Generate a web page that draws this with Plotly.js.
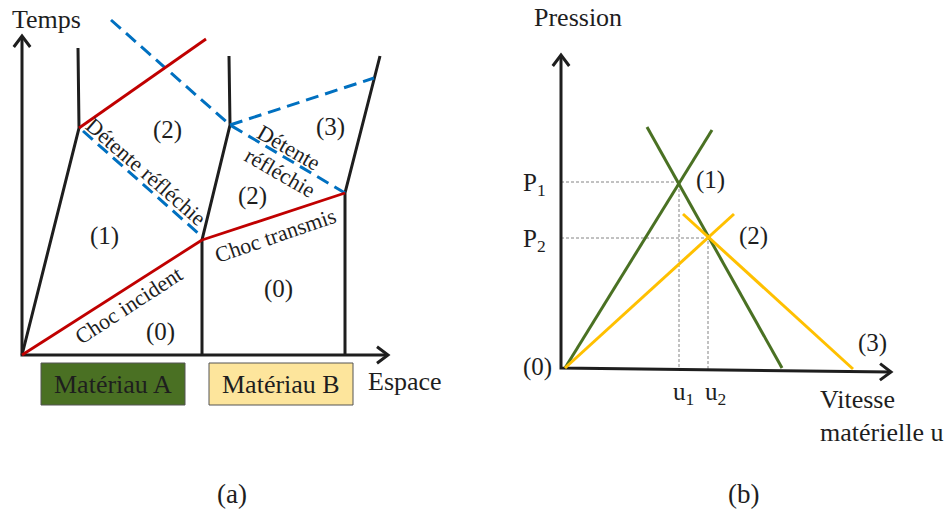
<!DOCTYPE html>
<html><head><meta charset="utf-8">
<script src="https://cdn.plot.ly/plotly-3.0.1.min.js"></script>
<style>html,body{margin:0;padding:0;background:#fff}#g{width:947px;height:512px}</style>
</head><body><div id="g"></div>
<script>
// ---- Panel (a): x–t diagram (schematic units) ----
const axisA_x = [22, 22, 388];
const axisA_y = [36, 355, 355];
const surfA_x = [22, 79, 78];
const surfA_y = [355, 128, 48];
const interface_x = [202, 202, 230, 229];
const interface_y = [355, 240, 125, 56];
const surfB_x = [345, 345, 380];
const surfB_y = [355, 193, 56];
const chocIncident_x = [22, 202];
const chocIncident_y = [355, 240];
const chocTransmis_x = [202, 345];
const chocTransmis_y = [240, 193];
const chocReflechi_x = [79, 206];
const chocReflechi_y = [128, 39];
const detenteA_x = [83, 199];
const detenteA_y = [131, 234];
const detenteB_x = [111, 230, 345];
const detenteB_y = [20, 125, 193];
const detenteB2_x = [230, 374];
const detenteB2_y = [125, 78];

// ---- Panel (b): pressure – material velocity ----
const axisB_x = [561, 561, 891];
const axisB_y = [55, 368, 372];
const greenUp_x = [565, 712];
const greenUp_y = [368, 130];
const greenDown_x = [647, 782];
const greenDown_y = [127, 368];
const yellowUp_x = [565, 734];
const yellowUp_y = [368, 214];
const yellowDown_x = [683, 853];
const yellowDown_y = [214, 369];
const guideP1_x = [561, 679, 679];
const guideP1_y = [182, 182, 369];
const guideP2_x = [561, 708, 708];
const guideP2_y = [238, 238, 370];

const RED = '#c00000', BLUE = '#0070c0', BLACK = '#1e1e1e', GREEN = '#4a7123', YELLOW = '#ffc000';
const FONT = 'Liberation Serif, Times New Roman, serif';

function ln(x, y, color, width, dash) {
  return {type: 'scatter', mode: 'lines', x: x, y: y, hoverinfo: 'skip', showlegend: false,
          line: {color: color, width: width, dash: dash || 'solid'}};
}
// open chevron arrow head built from the last segment of an axis polyline
function chevron(x, y, size) {
  const n = x.length;
  const dx = x[n-1] - x[n-2], dy = y[n-1] - y[n-2];
  const L = Math.hypot(dx, dy), ux = dx / L, uy = dy / L;
  const px = -uy, py = ux;
  const tx = x[n-1], ty = y[n-1];
  return ln([tx - ux*size + px*size*0.75, tx, tx - ux*size - px*size*0.75],
            [ty - uy*size + py*size*0.75, ty, ty - uy*size - py*size*0.75], BLACK, 3);
}
function chevronStart(x, y, size) {
  return chevron([x[1], x[0]], [y[1], y[0]], size);
}

const dashB = '13px,7px';
const traces = [
  ln(axisA_x, axisA_y, BLACK, 3), chevronStart(axisA_x, axisA_y, 11), chevron(axisA_x, axisA_y, 11),
  ln(surfA_x, surfA_y, BLACK, 3), ln(interface_x, interface_y, BLACK, 3), ln(surfB_x, surfB_y, BLACK, 3),
  ln(detenteA_x, detenteA_y, BLUE, 3, dashB), ln(detenteB_x, detenteB_y, BLUE, 3, dashB),
  ln(detenteB2_x, detenteB2_y, BLUE, 3, dashB),
  ln(chocIncident_x, chocIncident_y, RED, 2.8), ln(chocTransmis_x, chocTransmis_y, RED, 2.8),
  ln(chocReflechi_x, chocReflechi_y, RED, 2.8),
  ln(guideP1_x, guideP1_y, '#777777', 0.9, '3px,2px'), ln(guideP2_x, guideP2_y, '#777777', 0.9, '3px,2px'),
  ln(axisB_x, axisB_y, BLACK, 3), chevronStart(axisB_x, axisB_y, 11), chevron(axisB_x, axisB_y, 11),
  ln(greenUp_x, greenUp_y, GREEN, 3), ln(greenDown_x, greenDown_y, GREEN, 3),
  ln(yellowUp_x, yellowUp_y, YELLOW, 3), ln(yellowDown_x, yellowDown_y, YELLOW, 3)
];

function txt(x, y, text, size, angle, extra) {
  return Object.assign({x: x, y: y, xref: 'x', yref: 'y', text: text, showarrow: false,
    textangle: angle || 0, font: {family: FONT, size: size, color: BLACK}}, extra || {});
}

const annotations = [
  txt(46, 19, 'Temps', 26),
  txt(405, 381, 'Espace', 26),
  txt(113, 384, 'Matériau A', 26),
  txt(281, 384, 'Matériau B', 26),
  txt(232, 494, '(a)', 27),
  txt(167, 130, '(2)', 25), txt(330, 127, '(3)', 25), txt(252, 196, '(2)', 25),
  txt(104, 236, '(1)', 25), txt(160, 332, '(0)', 25), txt(278, 289, '(0)', 25),
  txt(128, 305, 'Choc incident', 22, -33),
  txt(146, 171, 'Détente réfléchie', 22, 41),
  txt(289, 147, 'Détente', 22, 30),
  txt(280, 172, 'réfléchie', 22, 30),
  txt(275, 235, 'Choc transmis', 22, -19),
  txt(578, 17, 'Pression', 26),
  txt(534, 184, 'P<sub>1</sub>', 25),
  txt(534, 240, 'P<sub>2</sub>', 25),
  txt(710, 180, '(1)', 25), txt(753, 236, '(2)', 25), txt(872, 343, '(3)', 25), txt(537, 367, '(0)', 25),
  txt(683, 393, 'u<sub>1</sub>', 25), txt(715, 393, 'u<sub>2</sub>', 25),
  txt(857, 399, 'Vitesse', 26), txt(881, 432, 'matérielle u', 26),
  txt(743, 494, '(b)', 27)
];

const shapes = [
  {type: 'rect', xref: 'x', yref: 'y', x0: 41, x1: 185, y0: 363, y1: 405, fillcolor: '#4a7023', line: {color: '#555555', width: 1}, layer: 'below'},
  {type: 'rect', xref: 'x', yref: 'y', x0: 209, x1: 353, y0: 363, y1: 405, fillcolor: '#fde59c', line: {color: '#555555', width: 1}, layer: 'below'}
];

const layout = {
  width: 947, height: 512, margin: {l: 0, r: 0, t: 0, b: 0},
  paper_bgcolor: '#ffffff', plot_bgcolor: '#ffffff', showlegend: false,
  xaxis: {range: [0, 947], visible: false, fixedrange: true},
  yaxis: {range: [512, 0], visible: false, fixedrange: true},
  annotations: annotations, shapes: shapes
};
Plotly.newPlot('g', traces, layout, {staticPlot: true, displayModeBar: false});
</script></body></html>
